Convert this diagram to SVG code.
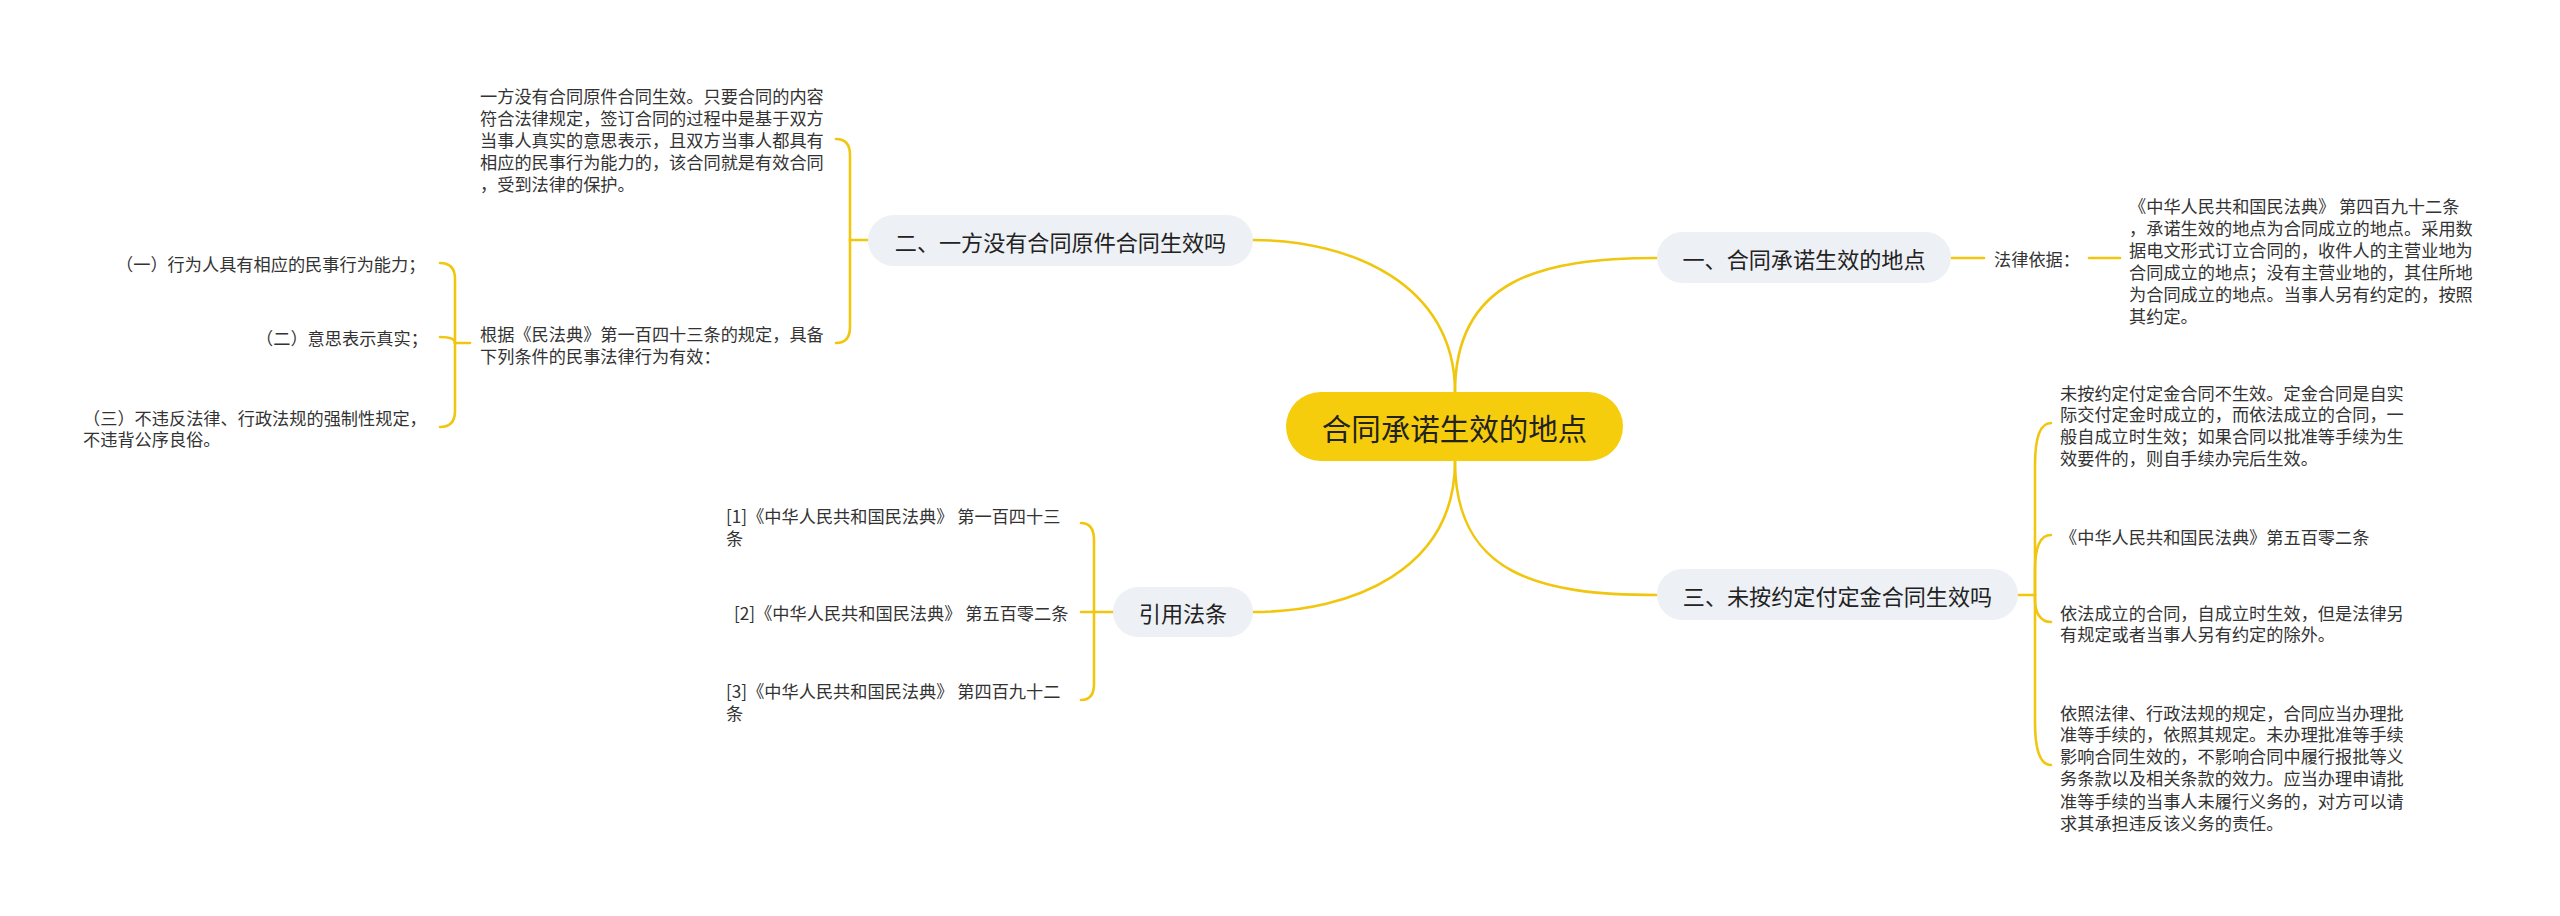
<svg xmlns="http://www.w3.org/2000/svg" width="2560" height="916" viewBox="0 0 2560 916">
<style>
text{font-family:"Noto Sans CJK SC","Noto Sans",sans-serif;dominant-baseline:central}
.leaf{font-size:17.2px;fill:#333}
.br{font-size:22.1px;fill:#222;text-anchor:middle}
.rt{font-size:29.5px;fill:#222;text-anchor:middle}
.bn{fill:#edf0f4}
.ln{fill:none;stroke:#f0c60f;stroke-width:2.6;stroke-linecap:round}
</style>
<rect width="2560" height="916" fill="#ffffff"/>
<g id="connectors">
<path class="ln" d="M1455,392 C1455,285 1352,240 1253,240"/>
<path class="ln" d="M1455,461 C1455,570 1352,612 1253,612"/>
<path class="ln" d="M1455,392 C1455,280 1540,258 1657,258"/>
<path class="ln" d="M1455,461 C1455,575 1540,595 1657,595"/>
<!-- 二 branch -->
<path class="ln" d="M868,240 L850,240"/>
<path class="ln" d="M850,240 L850,155 Q850,139 836,139"/>
<path class="ln" d="M850,240 L850,327 Q850,343 836,343"/>
<!-- 根据 -->
<path class="ln" d="M470,343 L455,343"/>
<path class="ln" d="M455,343 L455,279 Q455,263 440,263"/>
<path class="ln" d="M455,343 Q455,337 440,337"/>
<path class="ln" d="M455,343 L455,411 Q455,427 440,427"/>
<!-- 引用法条 -->
<path class="ln" d="M1113,612 L1081,612"/>
<path class="ln" d="M1094,612 L1094,540 Q1094,523 1081,523"/>
<path class="ln" d="M1094,612 L1094,684 Q1094,700 1081,700"/>
<!-- 一 -->
<path class="ln" d="M1951,258 L1984,258"/>
<path class="ln" d="M2089,258 L2120,258"/>
<!-- 三 -->
<path class="ln" d="M2018,595 L2035,595"/>
<path class="ln" d="M2035,595 L2035,465 C2035,437 2040,423 2051,423"/>
<path class="ln" d="M2035,595 L2035,570 C2035,548 2040,535 2051,535"/>
<path class="ln" d="M2035,595 L2035,600 C2035,612 2040,622 2051,622"/>
<path class="ln" d="M2035,595 L2035,722 C2035,750 2040,765 2051,765"/>
</g>
<g id="root">
<rect x="1286" y="392" width="337" height="69" rx="34.5" fill="#f5cd0c"/>
<text class="rt" x="1454.5" y="426.5">合同承诺生效的地点</text>
</g>
<g id="node-er">
<rect class="bn" x="868" y="215" width="385" height="51" rx="25.5"/>
<text class="br" x="1060.5" y="240.5">二、一方没有合同原件合同生效吗</text>
</g>
<g id="node-yinyong">
<rect class="bn" x="1113" y="587" width="140" height="50" rx="25"/>
<text class="br" x="1183" y="612">引用法条</text>
</g>
<g id="node-yi">
<rect class="bn" x="1657" y="232" width="294" height="51" rx="25.5"/>
<text class="br" x="1804" y="257.5">一、合同承诺生效的地点</text>
</g>
<g id="node-san">
<rect class="bn" x="1657" y="569" width="361" height="51" rx="25.5"/>
<text class="br" x="1837.5" y="594.5">三、未按约定付定金合同生效吗</text>
</g>
<g id="leaf-er-1">
<text class="leaf"><tspan x="480" y="95">一方没有合同原件合同生效。只要合同的内容</tspan><tspan x="480" y="117">符合法律规定，签订合同的过程中是基于双方</tspan><tspan x="480" y="139">当事人真实的意思表示，且双方当事人都具有</tspan><tspan x="480" y="161">相应的民事行为能力的，该合同就是有效合同</tspan><tspan x="480" y="183">，受到法律的保护。</tspan></text>
</g>
<g id="leaf-er-2">
<text class="leaf"><tspan x="480" y="333">根据《民法典》第一百四十三条的规定，具备</tspan><tspan x="480" y="355">下列条件的民事法律行为有效：</tspan></text>
</g>
<g id="leaf-cond-1">
<text class="leaf" x="116" y="263">（一）行为人具有相应的民事行为能力；</text>
</g>
<g id="leaf-cond-2">
<text class="leaf" x="256" y="337">（二）意思表示真实；</text>
</g>
<g id="leaf-cond-3">
<text class="leaf"><tspan x="83" y="417">（三）不违反法律、行政法规的强制性规定，</tspan><tspan x="83" y="438">不违背公序良俗。</tspan></text>
</g>
<g id="leaf-ref-1">
<text class="leaf"><tspan x="726" y="515">[1]《中华人民共和国民法典》 第一百四十三</tspan><tspan x="726" y="537">条</tspan></text>
</g>
<g id="leaf-ref-2">
<text class="leaf" x="734" y="612">[2]《中华人民共和国民法典》 第五百零二条</text>
</g>
<g id="leaf-ref-3">
<text class="leaf"><tspan x="726" y="690">[3]《中华人民共和国民法典》 第四百九十二</tspan><tspan x="726" y="712">条</tspan></text>
</g>
<g id="leaf-yi-basis">
<text class="leaf" x="1994" y="258">法律依据：</text>
</g>
<g id="leaf-yi-text">
<text class="leaf"><tspan x="2129" y="205">《中华人民共和国民法典》 第四百九十二条</tspan><tspan x="2129" y="227">，承诺生效的地点为合同成立的地点。采用数</tspan><tspan x="2129" y="249">据电文形式订立合同的，收件人的主营业地为</tspan><tspan x="2129" y="271">合同成立的地点；没有主营业地的，其住所地</tspan><tspan x="2129" y="293">为合同成立的地点。当事人另有约定的，按照</tspan><tspan x="2129" y="315">其约定。</tspan></text>
</g>
<g id="leaf-san-1">
<text class="leaf"><tspan x="2060" y="392">未按约定付定金合同不生效。定金合同是自实</tspan><tspan x="2060" y="413">际交付定金时成立的，而依法成立的合同，一</tspan><tspan x="2060" y="435">般自成立时生效；如果合同以批准等手续为生</tspan><tspan x="2060" y="457">效要件的，则自手续办完后生效。</tspan></text>
</g>
<g id="leaf-san-2">
<text class="leaf" x="2060" y="536">《中华人民共和国民法典》第五百零二条</text>
</g>
<g id="leaf-san-3">
<text class="leaf"><tspan x="2060" y="612">依法成立的合同，自成立时生效，但是法律另</tspan><tspan x="2060" y="633">有规定或者当事人另有约定的除外。</tspan></text>
</g>
<g id="leaf-san-4">
<text class="leaf"><tspan x="2060" y="712">依照法律、行政法规的规定，合同应当办理批</tspan><tspan x="2060" y="733">准等手续的，依照其规定。未办理批准等手续</tspan><tspan x="2060" y="755">影响合同生效的，不影响合同中履行报批等义</tspan><tspan x="2060" y="777">务条款以及相关条款的效力。应当办理申请批</tspan><tspan x="2060" y="800">准等手续的当事人未履行义务的，对方可以请</tspan><tspan x="2060" y="822">求其承担违反该义务的责任。</tspan></text>
</g>
</svg>
